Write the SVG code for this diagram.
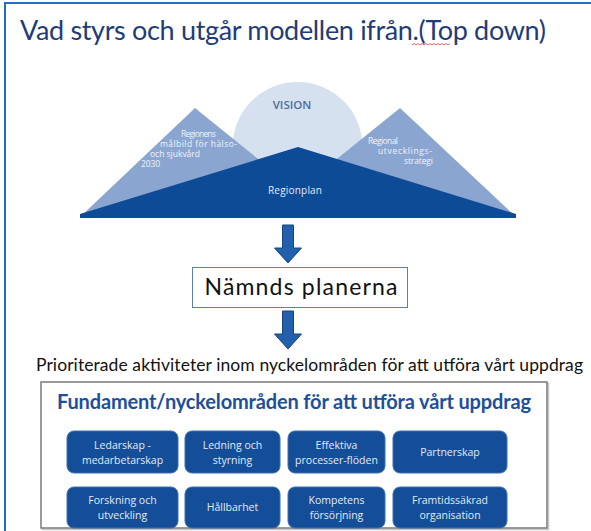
<svg xmlns="http://www.w3.org/2000/svg" width="591" height="531" viewBox="0 0 591 531">
<style>
.title{font-family:Lato,"Liberation Sans",sans-serif;font-size:27px;fill:#1f3c78}
.mt{font-family:"Open Sans","Liberation Sans",sans-serif;font-size:8.5px;fill:#eef3fa}
.btn{fill:#154e98;stroke:#3b6fb3;stroke-width:1}
.bt{font-family:"Open Sans","Liberation Sans",sans-serif;font-size:10.5px;fill:#e3eaf5;text-anchor:middle}
.arrow{fill:#2260ad;stroke:#17457f;stroke-width:1}
</style>
<defs>
<path id="arr" d="M-5.5,0 H5.5 V23 H13.5 L0,38 L-13.5,23 H-5.5 Z"/>
</defs>
<rect width="591" height="531" fill="#ffffff"/>
<g id="frame">
<path d="M5,531 V3 H591" fill="none" stroke="#2a6cc4" stroke-width="2"/>
</g>
<g id="title">
<text class="title" x="20" y="40" textLength="526">Vad styrs och utgår modellen ifrån.(Top down)</text>
<path d="M412,45 l2,-1.5 l2,1.5 l2,-1.5 l2,1.5 l2,-1.5 l2,1.5 l2,-1.5 l2,1.5 l2,-1.5 l2,1.5 l2,-1.5 l2,1.5 l2,-1.5 l2,1.5 l2,-1.5 l2,1.5 l2,-1.5 l2,1.5 l2,-1.5" fill="none" stroke="#e04040" stroke-width="0.8"/>
</g>
<g id="mountains">
<circle cx="297.5" cy="147" r="65" fill="#d5e1ef"/>
<text x="292" y="109" font-family="'Open Sans','Liberation Sans',sans-serif" font-size="11.5" fill="#4d6e9c" text-anchor="middle" font-weight="600">VISION</text>
<polygon points="195,108 80,217 330,217" fill="#8aa6d0"/>
<polygon points="400,108 516,217 265,217" fill="#8aa6d0"/>
<polygon points="298,147 80,214 80,218 516,218 516,214" fill="#0e4b97"/>
<text class="mt" x="181" y="137" textLength="35">Regionens</text>
<text class="mt" x="160" y="147" textLength="77">målbild för hälso-</text>
<text class="mt" x="150" y="157" textLength="50">och sjukvård</text>
<text class="mt" x="141" y="167" textLength="19">2030</text>
<text class="mt" x="368" y="144" textLength="30">Regional</text>
<text class="mt" x="378" y="154" textLength="54">utvecklings-</text>
<text class="mt" x="404" y="164" textLength="29">strategi</text>
<text x="295" y="194" font-family="'Open Sans','Liberation Sans',sans-serif" font-size="10" fill="#e3eaf5" text-anchor="middle" textLength="54">Regionplan</text>
</g>
<g id="connectors">
<use href="#arr" class="arrow" transform="translate(288,225)"/>
<use href="#arr" class="arrow" transform="translate(288,311)"/>
</g>
<g id="namnds">
<rect x="192.5" y="267.5" width="215" height="40" fill="#ffffff" stroke="#5b7fb5" stroke-width="1"/>
<text x="301" y="295" font-family="Lato,'Liberation Sans',sans-serif" font-size="23" fill="#111111" text-anchor="middle" textLength="193">Nämnds planerna</text>
</g>
<g id="prioriterade">
<text x="36" y="371" font-family="Lato,'Liberation Sans',sans-serif" font-size="17.5" fill="#111111" textLength="547">Prioriterade aktiviteter inom nyckelområden för att utföra vårt uppdrag</text>
</g>
<g id="fundament">
<rect x="42.5" y="383.5" width="506" height="146" fill="none" stroke="#c8c8c8" stroke-width="1.5"/>
<rect x="41" y="382" width="506" height="146" fill="#ffffff" stroke="#7a7a7a" stroke-width="1.5"/>
<text x="57" y="409" font-family="Lato,'Liberation Sans',sans-serif" font-size="20" font-weight="bold" fill="#1c4f9c" textLength="474">Fundament/nyckelområden för att utföra vårt uppdrag</text>
</g>
<g id="b1"><rect class="btn" x="67" y="431" width="111" height="42" rx="7"/><text class="bt" x="122.5" y="449">Ledarskap -</text><text class="bt" x="122.5" y="464">medarbetarskap</text></g>
<g id="b2"><rect class="btn" x="185" y="431" width="95" height="42" rx="7"/><text class="bt" x="232.5" y="449">Ledning och</text><text class="bt" x="232.5" y="464">styrning</text></g>
<g id="b3"><rect class="btn" x="288" y="431" width="97" height="42" rx="7"/><text class="bt" x="336.5" y="449">Effektiva</text><text class="bt" x="336.5" y="464">processer-flöden</text></g>
<g id="b4"><rect class="btn" x="393" y="431" width="114" height="42" rx="7"/><text class="bt" x="450" y="456">Partnerskap</text></g>
<g id="b5"><rect class="btn" x="67" y="487" width="111" height="41" rx="7"/><text class="bt" x="122.5" y="504">Forskning och</text><text class="bt" x="122.5" y="519">utveckling</text></g>
<g id="b6"><rect class="btn" x="185" y="487" width="95" height="41" rx="7"/><text class="bt" x="232.5" y="511">Hållbarhet</text></g>
<g id="b7"><rect class="btn" x="288" y="487" width="97" height="41" rx="7"/><text class="bt" x="336.5" y="504">Kompetens</text><text class="bt" x="336.5" y="519">försörjning</text></g>
<g id="b8"><rect class="btn" x="393" y="487" width="114" height="41" rx="7"/><text class="bt" x="450" y="504">Framtidssäkrad</text><text class="bt" x="450" y="519">organisation</text></g>
</svg>
